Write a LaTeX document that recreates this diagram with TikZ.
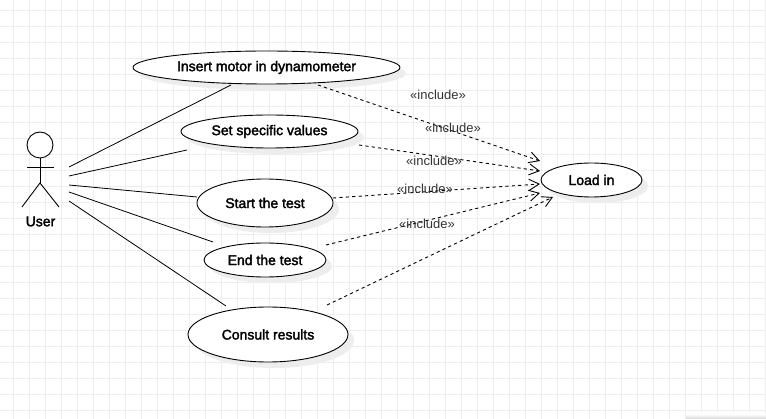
\documentclass[tikz,border=0pt]{standalone}
\usepackage{fontspec}
\setmainfont{Liberation Sans}
\newfontfamily\ucfont[FakeBold=2.2]{Liberation Sans}
\usetikzlibrary{arrows.meta,shapes.geometric}
\definecolor{gridc}{HTML}{EEEEEE}
\definecolor{shadowc}{HTML}{EDEDED}
\tikzset{
  x=1pt,y=-1pt,
  usecase/.style={ellipse,draw=black,fill=white,line width=0.9pt,inner sep=0pt,font=\fontsize{14}{15}\ucfont},
  ushadow/.style={ellipse,fill=shadowc,inner sep=0pt},
  assoc/.style={draw=black,line width=0.8pt},
  incl/.style={draw=black,line width=0.9pt,dash pattern=on 3.2pt off 3.2pt,-{Straight Barb[length=10pt,width=11pt,line width=0.9pt]}},
  incllabel/.style={text=black!80,font=\fontsize{13}{14}\selectfont,inner sep=0pt},
  actorline/.style={draw=black,line width=0.9pt}
}
\newcommand{\ucase}[6]{% name, cx, cy, w, h, text
  \node[ushadow,minimum width=#4pt,minimum height=#5pt] at (#2+6,#3+6) {};
  \node[usecase,minimum width=#4pt,minimum height=#5pt] (#1) at (#2,#3) {#6};
}
\begin{document}
\begin{tikzpicture}
\path[use as bounding box,fill=white] (0,0) rectangle (766,419);
\foreach \k in {0,...,47}{\draw[gridc,line width=1pt] (13+16*\k,0) -- (13+16*\k,419);}
\foreach \k in {0,...,25}{\draw[gridc,line width=1pt] (0,11+16*\k) -- (766,11+16*\k);}
\shade[top color=white,bottom color=black!16] (686,414) rectangle (766,419);

% use cases
\ucase{ins}{266.5}{67.5}{267}{33}{Insert motor in dynamometer}
\ucase{set}{269.5}{131.5}{177}{33}{Set specific values}
\ucase{start}{265}{203}{136}{48}{Start the test}
\ucase{end}{265}{260}{122}{34}{End the test}
\ucase{cons}{268}{334.5}{160}{55}{Consult results}
\ucase{load}{591.5}{180}{101}{34}{Load in}

% actor
\node[circle,draw=black,fill=white,line width=0.9pt,minimum size=26pt,inner sep=0pt] (head) at (40,145) {};
\coordinate (hip) at (40,183);
\coordinate (armL) at (27,167);
\coordinate (armR) at (54,167);
\coordinate (legL) at (22,207);
\coordinate (legR) at (59,207);
\draw[actorline] (head.south) -- (hip);
\draw[actorline] (armL) -- (armR);
\draw[actorline] (legL) -- (hip) -- (legR);
\node[font=\fontsize{14}{15}\ucfont,inner sep=0pt] (user) at (40.5,221.5) {User};

% association end points
\coordinate (a1) at (69,167); \coordinate (b1) at (231,85);
\coordinate (a2) at (69,176); \coordinate (b2) at (187,150);
\coordinate (a3) at (69,185); \coordinate (b3) at (197,197);
\coordinate (a4) at (69,192); \coordinate (b4) at (213,242);
\coordinate (a5) at (69,201); \coordinate (b5) at (226,306);
\draw[assoc] (a1) -- (b1);
\draw[assoc] (a2) -- (b2);
\draw[assoc] (a3) -- (b3);
\draw[assoc] (a4) -- (b4);
\draw[assoc] (a5) -- (b5);

% include end points
\coordinate (c1) at (318,85);  \coordinate (d1) at (540,161);
\coordinate (c2) at (359,145); \coordinate (d2) at (540,171);
\coordinate (c3) at (333,198); \coordinate (d3) at (540,184);
\coordinate (c4) at (326,245); \coordinate (d4) at (540,193);
\coordinate (c5) at (327,305); \coordinate (d5) at (553,197);
\draw[incl] (c1) -- (d1);
\draw[incl] (c2) -- (d2);
\draw[incl] (c3) -- (d3);
\draw[incl] (c4) -- (d4);
\draw[incl] (c5) -- (d5);

\node[incllabel] (l1) at (438,95) {«include»};
\node[incllabel] (l2) at (453,128) {«include»};
\node[incllabel] (l3) at (434,161) {«include»};
\node[incllabel] (l4) at (425,189) {«include»};
\node[incllabel] (l5) at (427,224) {«include»};
\end{tikzpicture}
\end{document}
